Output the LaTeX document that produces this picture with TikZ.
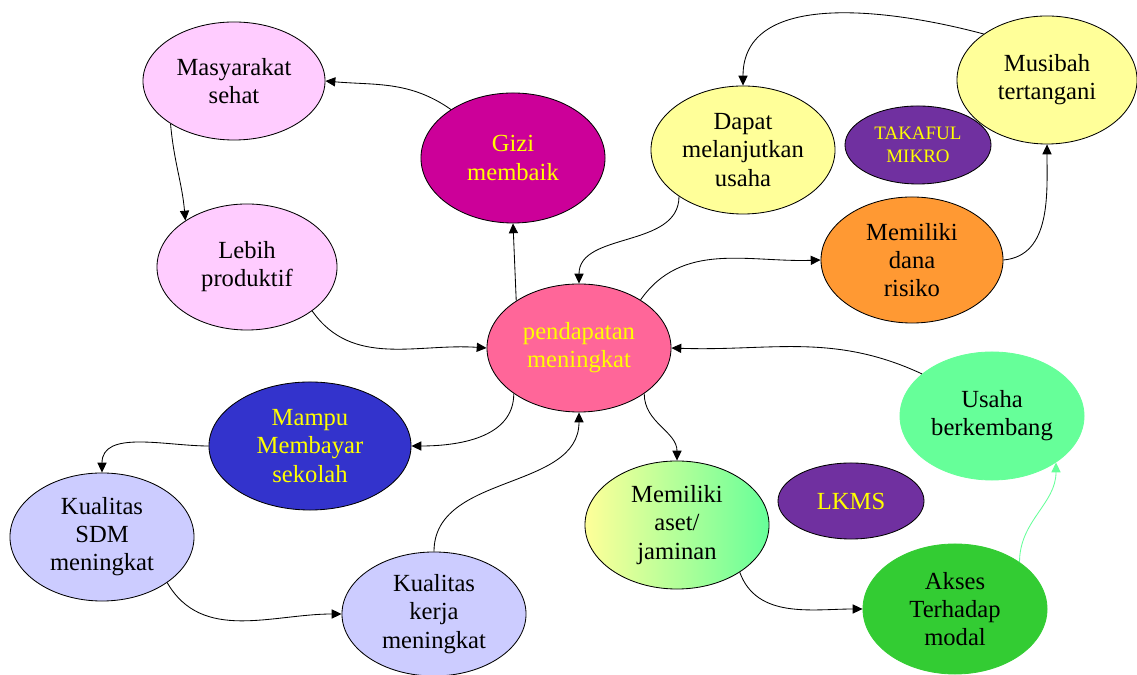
\documentclass[tikz,border=0pt]{standalone}
\usepackage{fontspec}
\setmainfont{Liberation Serif}
\usepackage{tikz}
\usetikzlibrary{shapes}
\usetikzlibrary{arrows.meta}

\definecolor{pinkbub}{HTML}{FFCCFF}
\definecolor{magentabub}{HTML}{CC0099}
\definecolor{rosebub}{HTML}{FF6699}
\definecolor{yellowbub}{HTML}{FFFF99}
\definecolor{purplebub}{HTML}{7030A0}
\definecolor{orangebub}{HTML}{FF9933}
\definecolor{mintbub}{HTML}{66FF99}
\definecolor{greenbub}{HTML}{33CC33}
\definecolor{bluebub}{HTML}{3333CC}
\definecolor{lilacbub}{HTML}{CCCCFF}
\definecolor{yellowtxt}{HTML}{FFFF00}

\begin{document}
\begin{tikzpicture}[x=0.025cm, y=0.025cm,
  bubble/.style={draw, ellipse, line width=0.6pt,
    minimum width=4.6cm, minimum height=3.2cm,
    inner sep=0pt, align=center,
    font=\fontsize{17.5}{20}\selectfont},
  link/.style={-{Triangle[length=7pt,width=6.5pt]}, line width=0.6pt}]
\useasboundingbox (0,0) rectangle (1137,675);

\node[bubble, fill=pinkbub,
   minimum width=4.55cm, minimum height=2.95cm] (masy) at (234,594)
  {Masyarakat\\sehat};
\node[bubble, fill=pinkbub,
   minimum width=4.5cm, minimum height=3.15cm] (lebih) at (247,408)
  {Lebih\\produktif};
\node[bubble, fill=magentabub, text=yellowtxt,
   minimum height=3.25cm] (gizi) at (513,517)
  {Gizi\\membaik};
\node[bubble, fill=rosebub, text=yellowtxt] (pend) at (579,327)
  {pendapatan\\meningkat};
\node[bubble, fill=yellowbub] (dapat) at (743,525)
  {Dapat\\melanjutkan\\usaha};
\node[bubble, fill=purplebub, text=yellowtxt,
   minimum width=3.65cm, minimum height=1.95cm,
   font=\fontsize{13.5}{16.5}\selectfont] (takaful) at (918,530)
  {TAKAFUL\\MIKRO};
\node[bubble, fill=yellowbub,
   minimum width=4.5cm] (musibah) at (1047,595)
  {Musibah\\tertangani};
\node[bubble, fill=orangebub,
   minimum width=4.55cm, minimum height=3.15cm] (dana) at (912,415)
  {Memiliki\\dana\\risiko};
\node[bubble, fill=mintbub, draw=mintbub] (usaha) at (992,259)
  {Usaha\\berkembang};
\node[bubble, fill=purplebub, text=yellowtxt,
   minimum width=3.65cm, minimum height=1.9cm] (lkms) at (851,174)
  {LKMS};
\node[bubble, fill=greenbub, draw=greenbub,
   minimum height=3.25cm] (akses) at (955,66)
  {Akses\\Terhadap\\modal};
\node[bubble, left color=yellowbub, right color=mintbub] (aset) at (677,150)
  {Memiliki\\aset/\\jaminan};
\node[bubble, fill=bluebub, text=yellowtxt,
   minimum width=5.05cm] (mampu) at (310,229)
  {Mampu\\Membayar\\sekolah};
\node[bubble, fill=lilacbub] (sdm) at (102,138)
  {Kualitas\\SDM\\meningkat};
\node[bubble, fill=lilacbub,
   minimum height=3.1cm] (kerja) at (434,61)
  {Kualitas\\kerja\\meningkat};

\draw[link] (gizi.142) to[out=145,in=-5] (masy.east);
\draw[link] (masy.214) to[out=-85,in=95] (lebih.143);
\draw[link] (lebih.-34) to[out=-55,in=176] (pend.west);
\draw[link] (pend.143) -- (gizi.south);
\draw[link] (dapat.216) to[out=-90,in=90] (pend.north);
\draw[link] (pend.38) to[out=55,in=182] (dana.west);
\draw[link] (dana.east) to[out=5,in=-90] (musibah.south);
\draw[link] (musibah.144) to[out=165,in=90] (dapat.north);
\draw[link] (usaha.149) to[out=155,in=-2] (pend.east);
\draw[link] (pend.-35) to[out=-90,in=90] (aset.north);
\draw[link] (aset.-37) to[out=-70,in=180] (akses.west);
\draw[link, mintbub] (akses.36) to[out=90,in=-90] (usaha.-36);
\draw[link] (pend.215) to[out=-90,in=0] (mampu.east);
\draw[link] (mampu.west) to[out=180,in=90] (sdm.north);
\draw[link] (sdm.-35) to[out=-60,in=180] (kerja.west);
\draw[link] (kerja.north) to[out=90,in=-90] (pend.south);
\end{tikzpicture}
\end{document}
